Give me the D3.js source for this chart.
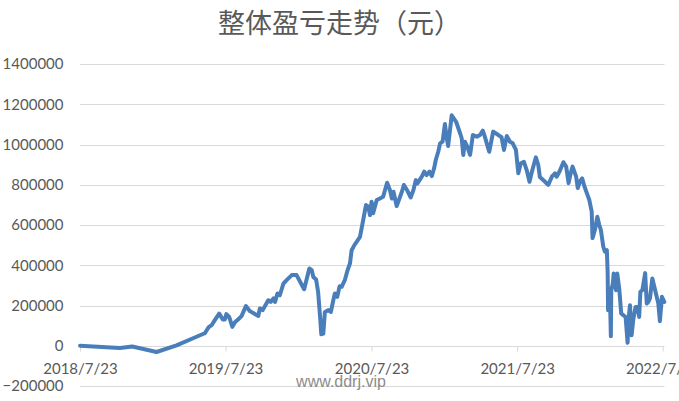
<!DOCTYPE html>
<html><head><meta charset="utf-8">
<script src="https://cdn.jsdelivr.net/npm/d3@7"></script>
<style>html,body{margin:0;padding:0;background:#fff;overflow:hidden}</style>
</head><body>
<svg id="c" width="679" height="401"></svg>
<script>
const title = "整体盈亏走势（元）";
const watermark = "www.ddrj.vip";
const yTicks = [-200000, 0, 200000, 400000, 600000, 800000, 1000000, 1200000, 1400000];
const xTickLabels = ["2018/7/23", "2019/7/23", "2020/7/23", "2021/7/23", "2022/7/23"];
const xDomain = ["2018-07-23", "2022-07-27"];

const dates = [
"2018-07-23","2018-10-31","2018-12-01","2019-01-31","2019-03-22","2019-05-20","2019-06-01","2019-06-10","2019-06-18","2019-06-26",
"2019-07-07","2019-07-16","2019-07-21","2019-07-25","2019-08-01","2019-08-09","2019-08-16","2019-08-24","2019-09-01","2019-09-12",
"2019-09-22","2019-10-13","2019-10-17","2019-10-24","2019-11-07","2019-11-13","2019-11-20","2019-11-24","2019-11-30","2019-12-06",
"2019-12-15","2019-12-23","2020-01-05","2020-01-17","2020-02-05","2020-02-18","2020-02-24","2020-02-28","2020-03-06","2020-03-11",
"2020-03-16","2020-03-19","2020-03-24","2020-03-28","2020-04-06","2020-04-12","2020-04-17","2020-04-22","2020-04-28","2020-05-04",
"2020-05-09","2020-05-17","2020-05-24","2020-05-30","2020-06-03","2020-06-10","2020-06-16","2020-06-24","2020-07-02","2020-07-09",
"2020-07-15","2020-07-19","2020-07-23","2020-07-27","2020-08-05","2020-08-13","2020-08-21","2020-08-31","2020-09-07","2020-09-12",
"2020-09-16","2020-09-24","2020-10-07","2020-10-12","2020-10-21","2020-10-29","2020-11-05","2020-11-11","2020-11-15","2020-11-26",
"2020-12-02","2020-12-08","2020-12-15","2020-12-21","2020-12-27","2020-12-31","2021-01-06","2021-01-11","2021-01-17","2021-01-23",
"2021-01-27","2021-01-31","2021-02-09","2021-02-20","2021-03-02","2021-03-06","2021-03-10","2021-03-14","2021-03-20","2021-03-27",
"2021-04-03","2021-04-13","2021-04-21","2021-04-28","2021-05-03","2021-05-14","2021-05-24","2021-06-06","2021-06-14","2021-06-20",
"2021-06-27","2021-07-05","2021-07-12","2021-07-20","2021-07-26","2021-08-01","2021-08-09","2021-08-16","2021-08-23","2021-08-29",
"2021-09-08","2021-09-14","2021-09-18","2021-10-01","2021-10-09","2021-10-18","2021-10-26","2021-10-30","2021-11-06","2021-11-16",
"2021-11-23","2021-11-29","2021-12-05","2021-12-09","2021-12-18","2021-12-22","2021-12-28","2022-01-02","2022-01-08","2022-01-14",
"2022-01-20","2022-01-26","2022-01-28","2022-02-03","2022-02-09","2022-02-14","2022-02-18","2022-02-24","2022-02-28","2022-03-05",
"2022-03-07","2022-03-08","2022-03-13","2022-03-15","2022-03-16","2022-03-20","2022-03-22","2022-03-28","2022-03-31","2022-04-05",
"2022-04-10","2022-04-15","2022-04-21","2022-04-26","2022-04-28","2022-05-02","2022-05-06","2022-05-10","2022-05-16","2022-05-21",
"2022-05-25","2022-05-28","2022-06-02","2022-06-09","2022-06-13","2022-06-17","2022-06-21","2022-06-27","2022-07-02","2022-07-06",
"2022-07-12","2022-07-16","2022-07-21","2022-07-27"
];
const values = [
0,-11000,-4000,-31000,2000,52000,62000,91000,102000,127000,
160000,130000,130000,157000,143000,94000,118000,132000,147000,197000,
172000,148000,185000,177000,226000,218000,235000,218000,260000,251000,
309000,326000,351000,351000,281000,384000,376000,342000,329000,268000,
143000,57000,60000,168000,177000,168000,216000,260000,243000,296000,
293000,326000,376000,410000,475000,500000,517000,541000,624000,699000,
691000,649000,715000,658000,724000,732000,740000,810000,774000,732000,
765000,694000,765000,799000,770000,737000,774000,823000,807000,840000,
865000,848000,865000,843000,883000,923000,963000,1006000,1014000,1102000,
1039000,993000,1145000,1113000,1056000,1031000,948000,1014000,989000,948000,
1047000,1039000,1047000,1069000,1039000,964000,1064000,1047000,1036000,973000,
1042000,1014000,1006000,973000,857000,906000,914000,873000,815000,865000,
936000,898000,838000,815000,799000,840000,857000,840000,865000,912000,
890000,808000,863000,890000,840000,784000,818000,832000,790000,757000,
724000,666000,535000,575000,641000,600000,575000,492000,467000,475000,
361000,177000,226000,47000,276000,309000,359000,276000,359000,285000,
160000,152000,143000,15000,127000,201000,52000,127000,193000,193000,
143000,268000,276000,361000,210000,218000,235000,334000,293000,260000,
210000,122000,243000,218000
];

const parse = d3.timeParse("%Y-%m-%d");
const parseLabel = d3.timeParse("%Y/%m/%d");
const data = dates.map((d, i) => ({date: parse(d), v: values[i]}));

const svg = d3.select("#c");
const pLeft = 80, pRight = 664.3, pTop = 64, pBottom = 386;
const x = d3.scaleTime().domain(xDomain.map(parse)).range([pLeft, pRight]);
const y = d3.scaleLinear().domain([yTicks[0], yTicks[yTicks.length - 1]]).range([pBottom, pTop]);

const grey = "#d9d9d9", textCol = "#595959";

// gridlines
svg.append("g").selectAll("line").data(yTicks).join("line")
  .attr("x1", pLeft).attr("x2", 664.5)
  .attr("y1", d => Math.round(y(d)) + 0.5).attr("y2", d => Math.round(y(d)) + 0.5)
  .attr("stroke", grey).attr("stroke-width", 1);

// y axis labels
const ya = svg.append("g").attr("transform", `translate(${pLeft},0)`)
  .call(d3.axisLeft(y).tickValues(yTicks).tickSize(0).tickPadding(16.5).tickFormat(d3.format("d")));
ya.select(".domain").remove();
ya.selectAll("text").attr("fill", textCol).style("font-family", "Lato, 'Liberation Sans', sans-serif").style("font-size", "15px");

// x axis
const xa = svg.append("g").attr("transform", `translate(0,${Math.round(y(0)) + 0.5})`)
  .call(d3.axisBottom(x).tickValues(xTickLabels.map(parseLabel)).tickSize(5).tickPadding(11.5)
    .tickFormat((d, i) => xTickLabels[i]));
xa.select(".domain").remove();
xa.selectAll("line").attr("stroke", grey);
xa.selectAll("text").attr("fill", textCol).style("font-family", "Lato, 'Liberation Sans', sans-serif").style("font-size", "15px");

// line
svg.append("path").datum(data)
  .attr("fill", "none").attr("stroke", "#4a7ebb").attr("stroke-width", 4)
  .attr("stroke-linejoin", "round").attr("stroke-linecap", "round")
  .attr("d", d3.line().x(d => x(d.date)).y(d => y(d.v)));

// title
svg.append("text").attr("x", 339.5).attr("y", 21).attr("text-anchor", "middle")
  .attr("dominant-baseline", "central").attr("fill", textCol)
  .style("font-family", "'Noto Sans CJK SC', sans-serif").style("font-size", "27px")
  .text(title);

// watermark
svg.append("text").attr("x", 341).attr("y", 381).attr("text-anchor", "middle")
  .attr("dominant-baseline", "central").attr("fill", "#8c8c8c")
  .style("font-family", "'Liberation Sans', Arial, sans-serif").style("font-size", "16px")
  .text(watermark);
</script>
</body></html>
